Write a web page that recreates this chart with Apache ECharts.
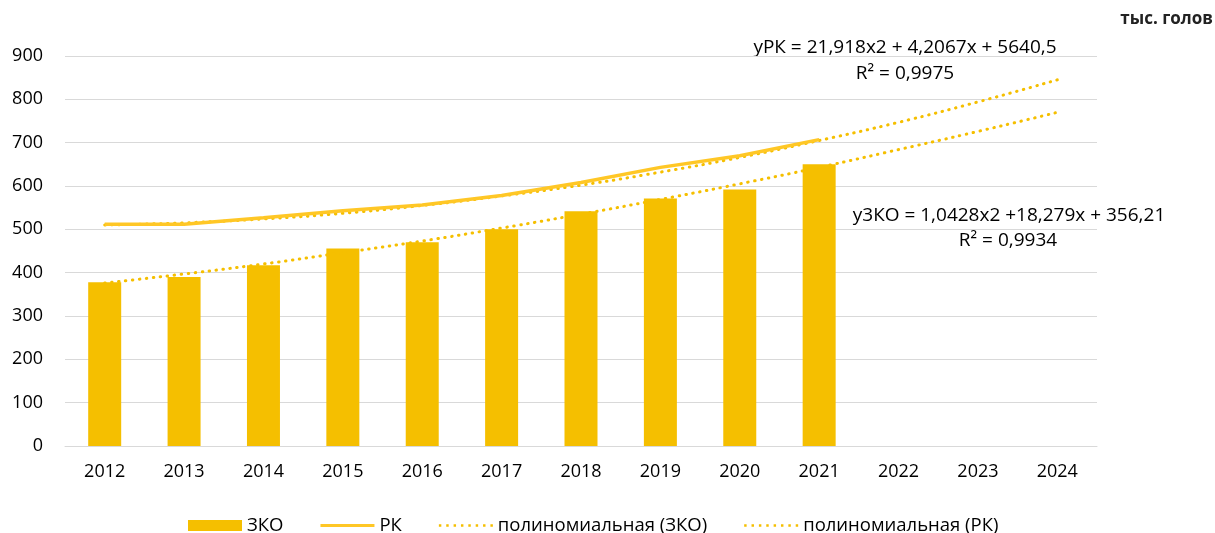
<!DOCTYPE html>
<html lang="ru">
<head>
    <meta charset="UTF-8">
    <title>ЗКО и РК</title>
    <script src="https://cdn.jsdelivr.net/npm/echarts@6/dist/echarts.min.js"></script>
    <style>
        html, body { margin: 0; padding: 0; background: #fff; }
        #container { width: 1215px; height: 533px; }
    </style>
</head>
<body>
<div id="container"></div>
<script type="text/javascript">
    var years = ['2012', '2013', '2014', '2015', '2016', '2017', '2018', '2019', '2020', '2021', '2022', '2023', '2024'];
    var zkoData = [378, 390, 417, 456, 470, 500, 542, 571, 592, 650, null, null, null];
    var rkData = [512, 512, 527, 543, 556, 578, 608, 643, 670, 707, null, null, null];
    var zkoTrend = [376, 397, 420, 446, 473, 503, 535, 569, 605, 643, 684, 726, 770];
    var rkTrend = [510, 515, 524, 537, 555, 577, 602, 632, 666, 705, 747, 794, 845];
    var yTicks = [0, 100, 200, 300, 400, 500, 600, 700, 800, 900];

    var barColor = '#F5BF00';
    var lineColor = '#FFC726';
    var font = '"Open Sans", sans-serif';

    // legend icons: solid line and dotted line
    var lineIcon = 'path://M0,0 L54,0 L54,3 L0,3 Z';
    var dotIcon = 'path://M0,0h2.4v2.4h-2.4z M7.2,0h2.4v2.4h-2.4z M14.4,0h2.4v2.4h-2.4z M21.6,0h2.4v2.4h-2.4z' +
        ' M28.8,0h2.4v2.4h-2.4z M36,0h2.4v2.4h-2.4z M43.2,0h2.4v2.4h-2.4z M50.4,0h2.4v2.4h-2.4z';

    var dom = document.getElementById('container');
    var myChart = echarts.init(dom);

    var dotted = {
        color: barColor,
        width: 3,
        type: [0.5, 6.5],
        cap: 'round'
    };

    function note(text, x, y, size, weight) {
        return {
            type: 'text', x: x, y: y,
            style: {
                text: text,
                font: (weight || 'normal') + ' ' + size + 'px ' + font,
                fill: '#000',
                align: 'center',
                verticalAlign: 'middle'
            }
        };
    }

    var option = {
        animation: false,
        textStyle: { fontFamily: font },
        grid: { left: 65, right: 118, top: 56, bottom: 87 },
        legend: {
            top: 511,
            left: 183,
            itemGap: 37,
            itemWidth: 54,
            itemHeight: 11,
            textStyle: { fontFamily: font, fontSize: 18.5, color: '#000' },
            data: [
                { name: 'ЗКО', icon: 'rect' },
                { name: 'РК', icon: lineIcon },
                { name: 'полиномиальная (ЗКО)', icon: dotIcon },
                { name: 'полиномиальная (РК)', icon: dotIcon }
            ]
        },
        graphic: [
            {
                type: 'text', x: 1213, y: 19,
                style: {
                    text: 'тыс. голов', font: 'bold 17px ' + font, fill: '#222',
                    align: 'right', verticalAlign: 'middle'
                }
            },
            note('yРК = 21,918x2 + 4,2067x + 5640,5', 905, 48, 19),
            note('R² = 0,9975', 905, 74, 19),
            note('y3КО = 1,0428x2 +18,279x + 356,21', 1009, 216, 19),
            note('R² = 0,9934', 1008, 241, 19)
        ],
        xAxis: {
            type: 'category',
            data: years,
            axisLine: { lineStyle: { color: '#D9D9D9' } },
            axisTick: { show: false },
            axisLabel: { fontSize: 18, color: '#000', margin: 17, fontFamily: font }
        },
        yAxis: {
            type: 'value',
            min: yTicks[0],
            max: yTicks[yTicks.length - 1],
            interval: 100,
            axisLabel: { fontSize: 18, color: '#000', margin: 22, fontFamily: font },
            splitLine: { lineStyle: { color: '#D9D9D9', width: 1 } }
        },
        series: [
            {
                name: 'ЗКО',
                type: 'bar',
                barWidth: 33,
                itemStyle: { color: barColor },
                data: zkoData,
                z: 2
            },
            {
                name: 'РК',
                type: 'line',
                showSymbol: false,
                symbol: 'none',
                lineStyle: { color: lineColor, width: 3.5 },
                itemStyle: { color: lineColor },
                data: rkData,
                z: 4
            },
            {
                name: 'полиномиальная (ЗКО)',
                type: 'line',
                smooth: true,
                symbol: 'none',
                lineStyle: dotted,
                itemStyle: { color: barColor },
                data: zkoTrend,
                z: 3
            },
            {
                name: 'полиномиальная (РК)',
                type: 'line',
                smooth: true,
                symbol: 'none',
                lineStyle: dotted,
                itemStyle: { color: barColor },
                data: rkTrend,
                z: 3
            }
        ]
    };

    myChart.setOption(option, true);
</script>
</body>
</html>
